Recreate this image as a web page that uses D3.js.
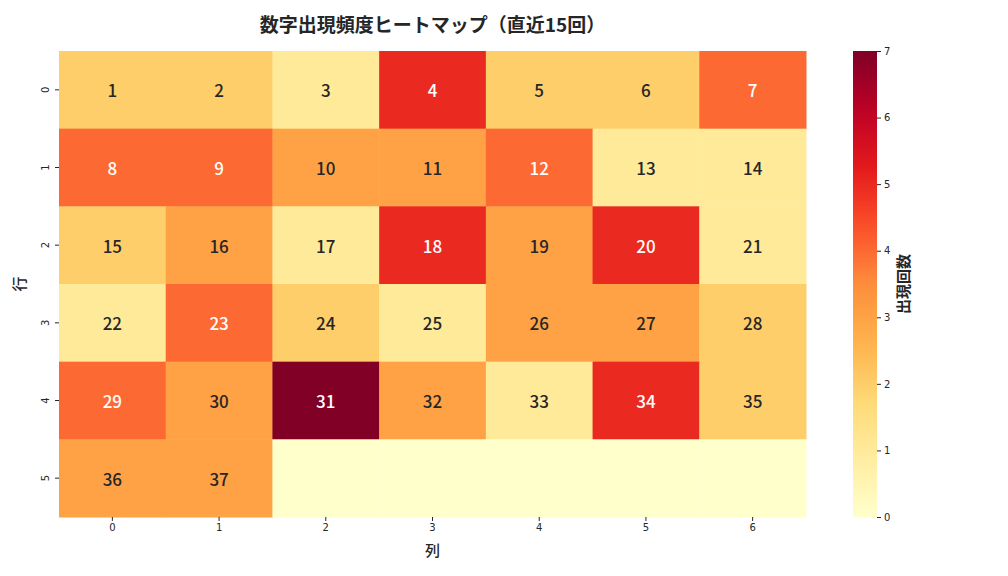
<!DOCTYPE html>
<html><head><meta charset="utf-8">
<script src="https://cdn.jsdelivr.net/npm/d3@7"></script>
<style>body{margin:0;background:#fff}svg{font-family:"Noto Sans CJK JP","Noto Sans",sans-serif}</style>
</head><body><svg id="c" width="1008" height="576"></svg>
<script>
const rowLabels = ["0","1","2","3","4","5"];
const colLabels = ["0","1","2","3","4","5","6"];
const numbers = [
  [1,2,3,4,5,6,7],
  [8,9,10,11,12,13,14],
  [15,16,17,18,19,20,21],
  [22,23,24,25,26,27,28],
  [29,30,31,32,33,34,35],
  [36,37,null,null,null,null,null]
];
const counts = [
  [2,2,1,5,2,2,4],
  [4,4,3,3,4,1,1],
  [2,3,1,5,3,5,1],
  [1,4,2,1,3,3,2],
  [4,3,7,3,1,5,2],
  [3,3,0,0,0,0,0]
];
const cbTicks = [0,1,2,3,4,5,6,7];
const title = "数字出現頻度ヒートマップ（直近15回）";

const svg = d3.select("#c");
const L=59,R=806,T=51,B=517;
const x = d3.scaleBand().domain(colLabels).range([L,R]).padding(0);
const y = d3.scaleBand().domain(rowLabels).range([T,B]).padding(0);
const brewer = ["#ffffcc","#ffeda0","#fed976","#feb24c","#fd8d3c","#fc4e2a","#e31a1c","#bd0026","#800026"];
const interp = d3.piecewise(d3.interpolateRgb, brewer);
const color = v => interp(Math.max(0,Math.min(1,v/7)));

const cells = [];
counts.forEach((row,i)=>row.forEach((c,j)=>cells.push({r:rowLabels[i],c:colLabels[j],v:c,n:numbers[i][j]})));

svg.append("g").selectAll("rect").data(cells).join("rect")
  .attr("x",d=>x(d.c)).attr("y",d=>y(d.r))
  .attr("width",x.bandwidth()+0.5).attr("height",y.bandwidth()+0.5)
  .attr("fill",d=>color(d.v));

function lum(c){const o=d3.rgb(c);const f=v=>{v/=255;return v<=0.03928?v/12.92:Math.pow((v+0.055)/1.055,2.4)};return 0.2126*f(o.r)+0.7152*f(o.g)+0.0722*f(o.b);}
svg.append("g").selectAll("text").data(cells.filter(d=>d.n!==null)).join("text")
  .attr("x",d=>x(d.c)+x.bandwidth()/2).attr("y",d=>y(d.r)+y.bandwidth()/2)
  .attr("text-anchor","middle").attr("dominant-baseline","central")
  .attr("font-size",17).attr("font-weight",500)
  .attr("fill",d=>lum(color(d.v))>0.408?"#262626":"#ffffff")
  .text(d=>d.n);

// axes
const xa = svg.append("g").attr("transform",`translate(0,${B})`)
  .call(d3.axisBottom(x).tickSize(4).tickPadding(3));
xa.select(".domain").remove();
xa.selectAll("text").attr("font-size",10).attr("fill","#262626").attr("font-family","DejaVu Sans");
xa.selectAll("line").attr("stroke","#262626");
const ya = svg.append("g").attr("transform",`translate(${L},0)`)
  .call(d3.axisLeft(y).tickSize(4).tickPadding(3));
ya.select(".domain").remove();
ya.selectAll("line").attr("stroke","#262626");
ya.selectAll("text").attr("font-size",10).attr("fill","#262626").attr("font-family","DejaVu Sans")
  .attr("text-anchor","middle").attr("dy",null).attr("dominant-baseline","central")
  .attr("x",null).attr("transform","translate(-14,0) rotate(-90)");

svg.append("text").attr("x",(L+R)/2).attr("y",556).attr("text-anchor","middle")
  .attr("font-size",15).attr("font-weight",500).attr("fill","#262626").text("列");
svg.append("text").attr("transform",`translate(25,${(T+B)/2}) rotate(-90)`).attr("text-anchor","middle")
  .attr("font-size",15).attr("font-weight",500).attr("fill","#262626").text("行");
svg.append("text").attr("x",(L+R)/2).attr("y",32).attr("text-anchor","middle")
  .attr("font-size",19).attr("font-weight","bold").attr("fill","#262626").text(title);

// colorbar
const cbX=853,cbW=24;
const cy = d3.scaleLinear().domain([0,7]).range([B,T]);
const defs = svg.append("defs");
const grad = defs.append("linearGradient").attr("id","g").attr("x1",0).attr("y1",1).attr("x2",0).attr("y2",0);
d3.range(0,1.0001,0.05).forEach(t=>grad.append("stop").attr("offset",t).attr("stop-color",interp(t)));
svg.append("rect").attr("x",cbX).attr("y",T).attr("width",cbW).attr("height",B-T).attr("fill","url(#g)");
const ca = svg.append("g").attr("transform",`translate(${cbX+cbW},0)`)
  .call(d3.axisRight(cy).tickValues(cbTicks).tickFormat(d3.format("d")).tickSize(4).tickPadding(3));
ca.select(".domain").remove();
ca.selectAll("line").attr("stroke","#262626");
ca.selectAll("text").attr("font-size",10).attr("fill","#262626").attr("font-family","DejaVu Sans");
svg.append("text").attr("transform",`translate(902,${(T+B)/2}) rotate(-90)`).attr("text-anchor","middle")
  .attr("dominant-baseline","central").attr("font-size",15).attr("font-weight","bold").attr("fill","#262626").text("出現回数");
</script></body></html>
